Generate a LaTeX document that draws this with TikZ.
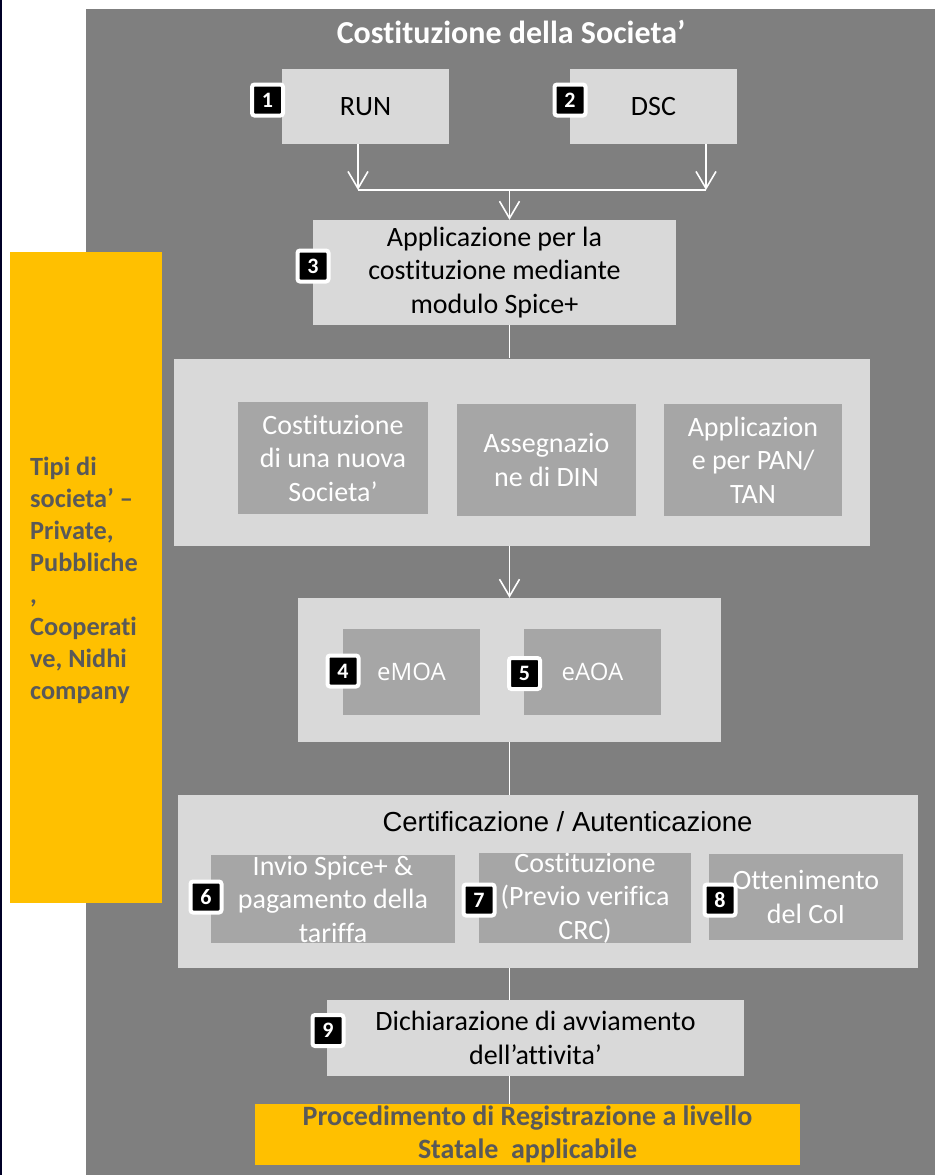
\documentclass[tikz,border=0pt]{standalone}
\usepackage{fontspec}
\setmainfont{Carlito}[Ligatures={NoCommon,NoRequired,NoContextual},RawFeature={-liga;-clig;-calt;-rlig;-dlig}]
\newfontfamily\osans{Open Sans}
\newfontfamily\lsans{Liberation Sans}
\usetikzlibrary{arrows.meta,calc}
\definecolor{bggray}{HTML}{7F7F7F}
\definecolor{boxlight}{HTML}{D9D9D9}
\definecolor{boxdark}{HTML}{A6A6A6}
\definecolor{yel}{HTML}{FFC000}
\definecolor{dgray}{HTML}{595959}
\begin{document}
\begin{tikzpicture}[x=1pt,y=-1pt,
  lbox/.style={fill=boxlight, inner sep=0, align=center, text=black, font=\fontsize{28}{33.5}\selectfont},
  dbox/.style={fill=boxdark, inner sep=0, align=center, text=white, font=\fontsize{28}{33.5}\selectfont},
  osbox/.style={fill=boxdark, inner sep=0, align=center, text=white, font=\osans\fontsize{24}{30}\selectfont},
  framebox/.style={fill=boxlight, inner sep=0},
  ybox/.style={fill=yel, inner sep=0},
  badge/.style={fill=black, draw=white, line width=4pt, rounded corners=2.5pt, minimum size=31, inner sep=0, text=white, font=\bfseries\fontsize{22}{22}\selectfont},
  conn/.style={draw=white, line width=1.6pt},
  arrowend/.style={-{Straight Barb[length=17pt,width=20pt]}},
]
\useasboundingbox (0,0) rectangle (935,1175);
\fill[white] (0,0) rectangle (935,1175);
\fill[black!85!blue] (0,0) rectangle (1.5,1175);
\fill[bggray] (86,9) rectangle (935,1175);

% side panel
\node[ybox, minimum width=152, minimum height=651] (side) at (86,577.5) {};
\node[anchor=west, align=left, inner sep=0, text=dgray, font=\bfseries\fontsize{26.3}{32}\selectfont] (sidetxt) at (30,580) {Tipi di\\societa’ –\\Private,\\Pubbliche\\,\\Cooperati\\ve, Nidhi\\company};

% title
\node[text=white, inner sep=0, font=\bfseries\fontsize{32}{32}\selectfont] (title) at (511,32) {Costituzione della Societa’};

% top boxes
\node[lbox, minimum width=167, minimum height=75] (run) at (365.5,106.5) {RUN};
\node[lbox, minimum width=167, minimum height=75] (dsc) at (653.5,106.5) {DSC};
\node[lbox, minimum width=363, minimum height=105] (app) at (494.5,272.5) {Applicazione per la\\costituzione mediante\\modulo Spice+};

% frame A
\node[framebox, minimum width=696, minimum height=187] (fa) at (521.5,452) {};
\node[dbox, minimum width=190, minimum height=112] (n1) at (333,458) {Costituzione\\di una nuova\\Societa’};
\node[dbox, minimum width=179, minimum height=112] (n2) at (546.5,460) {Assegnazio\\ne di DIN};
\node[dbox, minimum width=178, minimum height=112] (n3) at (753,460) {Applicazion\\e per PAN/\\TAN};

% frame B
\node[framebox, minimum width=423, minimum height=144] (fb) at (509.5,670) {};
\node[osbox, minimum width=137, minimum height=86] (emoa) at (411.5,672) {eMOA};
\node[osbox, minimum width=137, minimum height=86] (eaoa) at (592.5,672) {eAOA};

% frame C
\node[framebox, minimum width=740, minimum height=173] (fc) at (548,881.5) {};
\node[inner sep=0, text=black, font=\lsans\fontsize{27.5}{30}\selectfont] (ctitle) at (567.5,822) {Certificazione / Autenticazione};
\node[dbox, minimum width=244, minimum height=88] (c1) at (333,899) {Invio Spice+ \&\\pagamento della\\tariffa};
\node[dbox, minimum width=212, minimum height=88] (c2) at (585,898) {Costituzione\\(Previo verifica\\CRC)};
\node[dbox, minimum width=194, minimum height=86] (c3) at (806,897) {Ottenimento\\del CoI};

% box 9 and final
\node[lbox, minimum width=417, minimum height=76] (b9) at (535.5,1038) {Dichiarazione di avviamento\\dell’attivita’};
\node[ybox, minimum width=545, minimum height=61, align=center, text=dgray, font=\bfseries\fontsize{28}{33}\selectfont] (yb) at (527.5,1134.5) {Procedimento di Registrazione a livello\\Statale\ \ applicabile};

% connectors
\coordinate (j1) at (358,190);
\coordinate (j2) at (706,190);
\coordinate (j3) at (509.5,190);
\draw[conn, arrowend] (run.south -| j1) -- (j1);
\draw[conn, arrowend] (dsc.south -| j2) -- (j2);
\draw[conn] (j1) -- (j2);
\draw[conn, arrowend] (j3) -- (j3 |- app.north);
\draw[conn] (app.south -| j3) -- (j3 |- fa.north);
\draw[conn, arrowend] (fa.south -| j3) -- (j3 |- fb.north);
\draw[conn] (fb.south -| j3) -- (j3 |- fc.north);
\draw[conn] (fc.south -| j3) -- (j3 |- b9.north);
\draw[conn] (b9.south -| j3) -- (j3 |- yb.north);

% badges
\node[badge] (bd1) at (267.5,100) {1};
\node[badge] (bd2) at (570,100) {2};
\node[badge] (bd3) at (313,266) {3};
\node[badge] (bd4) at (343,671) {4};
\node[badge] (bd5) at (524.5,673.5) {5};
\node[badge] (bd6) at (206,897) {6};
\node[badge] (bd7) at (479,900) {7};
\node[badge] (bd8) at (720,900) {8};
\node[badge] (bd9) at (328,1030.5) {9};
\end{tikzpicture}
\end{document}
